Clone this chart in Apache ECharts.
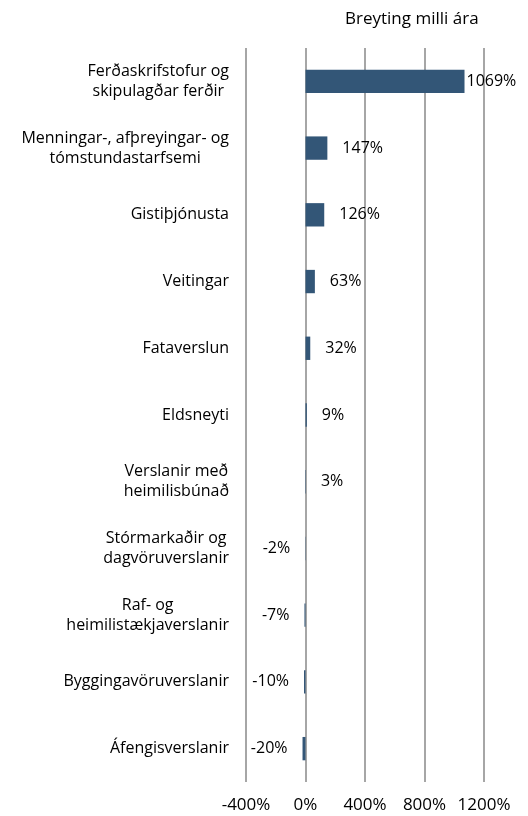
<!DOCTYPE html>
<html>
<head>
<meta charset="utf-8">
<script src="https://cdn.jsdelivr.net/npm/echarts@6/dist/echarts.min.js"></script>
<style>
  html, body { margin: 0; padding: 0; background: #fff; }
  #chart { width: 528px; height: 816px; }
</style>
</head>
<body>
<div id="chart"></div>
<script>
// flokkar (efst til neðst)
const categories = [
  'Ferðaskrifstofur og\nskipulagðar ferðir',
  'Menningar-, afþreyingar- og\ntómstundastarfsemi',
  'Gistiþjónusta',
  'Veitingar',
  'Fataverslun',
  'Eldsneyti',
  'Verslanir með\nheimilisbúnað',
  'Stórmarkaðir og\ndagvöruverslanir',
  'Raf- og\nheimilistækjaverslanir',
  'Byggingavöruverslanir',
  'Áfengisverslanir'
]
const changeValues = [1069, 147, 126, 63, 32, 9, 3, -2, -7, -10, -20]
const xTicks = [-400, 0, 400, 800, 1200]

const font = 'Open Sans'
const chart = echarts.init(document.getElementById('chart'))

const seriesData = changeValues.map((v, i) => {
  return {
    value: v,
    label: {
      position: v < 0 ? 'left' : 'right',
      distance: i === 0 ? 2 : 15
    }
  }
})

chart.setOption({
  animation: false,
  title: {
    text: 'Breyting milli ára',
    left: 340,
    top: 6,
    textStyle: { fontFamily: font, fontSize: 17, fontWeight: 'normal', color: '#000' }
  },
  grid: { left: 246, right: 44, top: 48, bottom: 34 },
  xAxis: {
    type: 'value',
    min: xTicks[0],
    max: xTicks[xTicks.length - 1],
    interval: 400,
    axisLine: { show: false },
    axisTick: { show: false },
    splitLine: { lineStyle: { color: '#a6a6a6', width: 2 } },
    axisLabel: {
      formatter: v => v + '%',
      margin: 15,
      fontFamily: font,
      fontSize: 17,
      color: '#000'
    }
  },
  yAxis: {
    type: 'category',
    inverse: true,
    data: categories,
    axisLine: { show: false },
    axisTick: { show: false },
    axisLabel: {
      margin: 17,
      formatter: v => v.split('\n').map(s => '{c|' + s + '}').join('\n'),
      rich: {
        c: {
          align: 'center',
          fontFamily: font,
          fontSize: 16,
          lineHeight: 20,
          color: '#000'
        }
      }
    }
  },
  series: [{
    type: 'bar',
    data: seriesData,
    barWidth: '35%',
    itemStyle: { color: '#335677' },
    label: {
      show: true,
      formatter: p => p.value + '%',
      fontFamily: font,
      fontSize: 16,
      color: '#000'
    }
  }]
})
</script>
</body>
</html>
